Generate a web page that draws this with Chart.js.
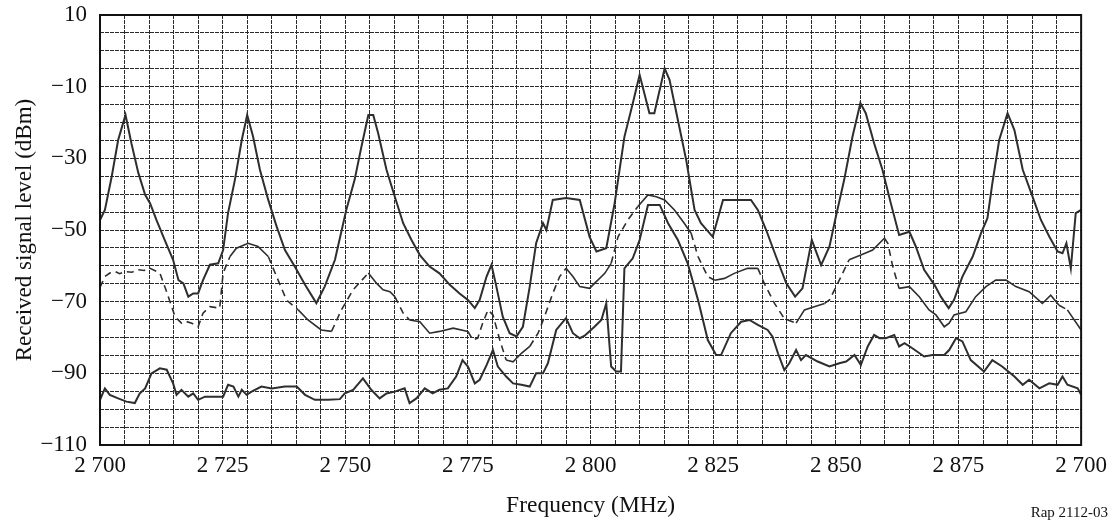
<!DOCTYPE html>
<html>
<head>
<meta charset="utf-8">
<script src="https://cdn.jsdelivr.net/npm/chart.js@4/dist/chart.umd.min.js"></script>
<style>
  html, body { margin: 0; padding: 0; background: #fff; }
  #wrap { width: 1114px; height: 520px; }
</style>
</head>
<body>
<div id="wrap"><canvas id="levelChart" width="1114" height="520"></canvas></div>
<script>
// Upper trace (peaks)
var upperFreq = [2700, 2701, 2702.4, 2703.7, 2705.2, 2706.4, 2707.8, 2709.2, 2710.2, 2711.5, 2713.2, 2714.9, 2716, 2717, 2718, 2719, 2720, 2721, 2722.4, 2724.1,
  2725.1, 2726.1, 2727.5, 2728.9, 2730, 2731.2, 2732.6, 2734.3, 2736, 2737.7, 2739.7, 2741.8, 2744.1, 2745.8, 2747.9, 2750.2, 2751.9, 2753.3, 2754.7, 2755.7,
  2756.7, 2758.4, 2760.1, 2761.8, 2763.5, 2765.2, 2767.2, 2769.2, 2771.3, 2773.3, 2775, 2776.4, 2777.4, 2778.8, 2779.8, 2780.8, 2782.1, 2783.5, 2784.9, 2786.2,
  2787.6, 2788.9, 2790.3, 2791, 2792.3, 2795, 2797.8, 2799.8, 2801.2, 2803.2, 2804.9, 2806.9, 2808.6, 2810, 2812, 2813, 2815.1, 2816.1, 2817.8, 2819.5,
  2821.2, 2822.5, 2824.9, 2827, 2832.7, 2834.1, 2835.8, 2837.8, 2839.9, 2841.7, 2843.2, 2845.1, 2847, 2848.7, 2850, 2851.7, 2853.4, 2855, 2856.1, 2857.8,
  2859.5, 2861.2, 2862.9, 2865, 2866.3, 2868, 2870.1, 2871.4, 2873, 2874.1, 2875.8, 2877.9, 2879.6, 2880.9, 2881.9, 2883.3, 2885, 2886.4, 2888.1, 2890.1,
  2891.8, 2893.5, 2895.2, 2896.2, 2897, 2897.9, 2898.9, 2900];
var upperLevel = [-47.2, -44.4, -35, -24.9, -17.9, -25.8, -34, -40.2, -42.5, -47.2, -52.8, -58.3, -64, -64.9, -68.6, -67.7, -67.7, -64, -59.7, -59.3,
  -55.6, -45.3, -36, -24.9, -17.9, -23.9, -33.2, -41.6, -49, -55.6, -60.2, -65.3, -70.4, -65.8, -58.3, -44.4, -36, -26.7, -17.9, -17.9,
  -23, -33.2, -40.7, -48.1, -52.8, -57, -60.2, -62.1, -65.3, -67.7, -69.5, -71.8, -69.5, -63, -59.7, -65.8, -74.2, -78.8, -79.7, -77,
  -65.8, -53.7, -48.1, -50, -41.6, -41.1, -41.6, -51.9, -56, -55.1, -42.6, -24, -14.7, -6.7, -17.4, -17.4, -4.9, -8.1, -19.3, -30.5,
  -44.4, -48.1, -51.9, -41.6, -41.6, -44.4, -50, -57.4, -64.9, -68.6, -66.3, -52.8, -59.8, -54.6, -46.3, -36, -23.9, -14.6, -17.4, -25.8,
  -33.2, -42.5, -51.4, -50.5, -54.6, -61.1, -65.3, -68.6, -71.8, -69.5, -63, -57.4, -50.9, -46.7, -37, -24.9, -17.4, -22.1, -33.2, -40.7,
  -47.2, -51.8, -56, -56.5, -53.7, -60.7, -45.3, -44.4];

// Middle trace (partly dashed)
var middleFreq = [2700, 2701, 2702, 2703.1, 2704, 2705.1, 2706.5, 2707.8, 2709, 2710.2, 2712.2, 2713.7, 2715.3, 2716.6, 2717.5, 2718.7, 2720, 2721, 2722.4, 2724.4,
  2725.1, 2726.5, 2727.8, 2730.2, 2732.2, 2734.3, 2736, 2738, 2740.4, 2742.4, 2745.1, 2747.2, 2749.2, 2751.6, 2754.7, 2756.4, 2757.7, 2759.1, 2760.1, 2761.8,
  2763.1, 2765.2, 2767.2, 2769.2, 2772, 2775, 2776, 2777, 2778, 2779.1, 2780.1, 2781.5, 2782.8, 2784.2, 2785.9, 2787.6, 2789.3, 2790.6, 2792.3, 2793.7,
  2795, 2796.4, 2797.8, 2799.8, 2800.8, 2802.9, 2804.2, 2805.6, 2807.6, 2809.6, 2811.7, 2813.4, 2815.1, 2817.1, 2819.1, 2820.5, 2821.9, 2823.9, 2825.3, 2827.3,
  2829.3, 2832, 2834.1, 2835.4, 2837.5, 2839.5, 2841.9, 2843.6, 2845.6, 2847.7, 2848.7, 2850.7, 2852.7, 2855.1, 2857.5, 2859.9, 2860.6, 2861.6, 2862.9, 2865,
  2867, 2869, 2870.4, 2872.1, 2873.1, 2874.1, 2876.5, 2878.5, 2880.6, 2882.6, 2884.7, 2886.7, 2889.4, 2892.1, 2893.8, 2895.5, 2897.2, 2900];
var middleLevel = [-66, -63, -62, -61.6, -62.2, -61.6, -61.8, -61.1, -61.3, -60.7, -62, -67.7, -74.2, -76, -75.5, -76, -77, -73.2, -71.4, -71.8,
  -62, -57.4, -55.1, -53.7, -54.6, -57.4, -63, -69.5, -72.3, -75.1, -77.9, -78.3, -72.3, -66.7, -62, -64.9, -66.7, -67.2, -68.6, -73.2,
  -75.1, -75.6, -78.8, -78.3, -77.4, -78.3, -80.7, -80.2, -76, -72.3, -73.7, -80.7, -86.3, -86.8, -84.4, -82.5, -78.8, -74.2, -67.7, -63,
  -60.7, -63, -65.8, -66.3, -64.9, -62.1, -59.3, -51.9, -47.2, -43.5, -40.2, -40.7, -41.6, -44.4, -48.1, -50.9, -57.4, -63, -64, -63.5,
  -62.1, -60.7, -60.7, -64.9, -70.5, -74.7, -76, -72.3, -71.4, -70.5, -69.5, -64, -58.3, -57, -55.6, -52.3, -53.7, -60.2, -66.3, -65.8,
  -68.6, -72.3, -73.7, -77, -76, -73.7, -72.8, -68.6, -65.8, -64, -64, -65.8, -67.2, -70.5, -68.2, -71, -72.3, -77.9];

// Lower trace (noise floor)
var lowerFreq = [2700, 2701, 2702, 2703.7, 2705.4, 2707.1, 2708.1, 2709.2, 2710.5, 2712.2, 2713.6, 2714.9, 2715.6, 2716.6, 2718, 2719, 2720, 2721.4, 2723.4, 2725.1,
  2726.1, 2727.2, 2728.2, 2728.9, 2729.9, 2730.9, 2732.9, 2735, 2737.7, 2740.1, 2741.8, 2743.8, 2746.5, 2748.9, 2749.9, 2751.6, 2753.6, 2755.3, 2757, 2758.4,
  2760.1, 2762.1, 2763.1, 2764.5, 2766.2, 2767.8, 2769.2, 2770.9, 2772.6, 2773.9, 2775, 2776.4, 2777.4, 2778.8, 2780.1, 2781.1, 2782.8, 2784.2, 2785.9, 2787.6,
  2788.9, 2790.3, 2791.3, 2793, 2795, 2796.4, 2797.8, 2798.8, 2800.8, 2802.2, 2803.2, 2804.2, 2805.2, 2806.2, 2806.9, 2808.6, 2810, 2811.7, 2814.1, 2815.8,
  2817.8, 2819.8, 2821.9, 2823.9, 2825.6, 2826.6, 2828.6, 2830.7, 2832.4, 2834.1, 2836.1, 2837.1, 2838.2, 2839.5, 2840.5, 2841.9, 2842.9, 2843.9, 2846.3, 2848.7,
  2850.7, 2852.1, 2853.8, 2855.1, 2856.5, 2857.8, 2858.9, 2860.2, 2861.9, 2862.9, 2864, 2865.6, 2868, 2869.7, 2872.1, 2873.1, 2874.5, 2875.8, 2877.5, 2880.2,
  2881.9, 2883.9, 2886.4, 2888.1, 2889.4, 2891.5, 2893.5, 2895.2, 2896.2, 2897.2, 2899.3, 2900];
var lowerLevel = [-97.4, -94.2, -96, -97, -97.9, -98.3, -95.6, -94.2, -90, -88.6, -89, -92.8, -96, -94.6, -96.5, -95.6, -97.4, -96.5, -96.5, -96.5,
  -93.2, -93.7, -96.5, -94.6, -96, -95.1, -93.7, -94.2, -93.7, -93.7, -96, -97.4, -97.4, -97.2, -95.6, -94.6, -91.4, -94.6, -97, -95.6,
  -95.1, -94.2, -98.3, -97, -94.2, -95.6, -94.6, -94.2, -90.9, -86.3, -88.1, -92.8, -91.8, -87.7, -83.5, -88.1, -90.9, -92.8, -93.2, -93.7,
  -90, -90, -87.2, -77.9, -74.6, -78.8, -80.2, -79.5, -77, -75.1, -70.5, -88.1, -89.5, -89.5, -60.7, -57.9, -52.8, -43, -43, -48.1,
  -52.8, -59.3, -69.5, -80.7, -84.9, -84.9, -78.8, -75.6, -75.1, -76.5, -77.9, -79.8, -84.4, -89.1, -87.2, -83.5, -86.3, -84.9, -86.7, -88.1,
  -87.2, -86.7, -84.9, -87.7, -82.5, -79.3, -80.2, -80.2, -79.3, -82.5, -81.6, -83, -85.3, -84.9, -84.9, -83.5, -80.2, -81.1, -86.3, -89.5,
  -86.3, -88.1, -90.9, -93.2, -91.8, -94.2, -92.8, -93.2, -90.9, -93.2, -94.2, -96];

// Axis labels
var xTickLabels = ['2 700', '2 725', '2 750', '2 775', '2 800', '2 825', '2 850', '2 875', '2 700'];
var yTickLabels = ['10', '\u221210', '\u221230', '\u221250', '\u221270', '\u221290', '\u2212110'];

// frequency spans where the middle trace is drawn dashed
var dashedSpans = [[2700, 2726], [2735, 2740], [2748, 2754], [2760, 2763], [2775, 2783], [2788, 2795],
  [2804, 2810], [2820, 2825], [2834, 2842], [2848, 2853], [2860, 2863], [2895, 2898]];

function toPoints(xs, ys) {
  return xs.map(function (x, i) { return { x: x, y: ys[i] }; });
}

function isDashed(f) {
  return dashedSpans.some(function (s) { return f >= s[0] && f <= s[1]; });
}

var serif = "'Liberation Serif', 'Times New Roman', serif";
var ink = '#2e2e2e';
var gridInk = '#2a2a2a';

// plot frame and figure reference
var framePlugin = {
  id: 'frame',
  afterDraw: function (chart) {
    var ctx = chart.ctx, a = chart.chartArea;
    ctx.save();
    ctx.strokeStyle = '#111';
    ctx.lineWidth = 2;
    ctx.strokeRect(a.left, a.top, a.right - a.left, a.bottom - a.top);
    ctx.font = '15px ' + serif;
    ctx.fillStyle = '#111';
    ctx.textAlign = 'right';
    ctx.textBaseline = 'alphabetic';
    ctx.fillText('Rap 2112-03', chart.width - 6, chart.height - 3);
    ctx.restore();
  }
};

var lineStyle = { borderColor: ink, borderWidth: 2, pointRadius: 0, fill: false, tension: 0 };

new Chart(document.getElementById('levelChart').getContext('2d'), {
  type: 'line',
  data: {
    datasets: [
      Object.assign({ label: 'upper', data: toPoints(upperFreq, upperLevel) }, lineStyle),
      Object.assign({
        label: 'middle',
        data: toPoints(middleFreq, middleLevel),
        segment: {
          borderDash: function (ctx) {
            var mid = (ctx.p0.parsed.x + ctx.p1.parsed.x) / 2;
            return isDashed(mid) ? [7, 5] : undefined;
          }
        }
      }, lineStyle, { borderWidth: 1.6 }),
      Object.assign({ label: 'lower', data: toPoints(lowerFreq, lowerLevel) }, lineStyle)
    ]
  },
  options: {
    responsive: false,
    animation: false,
    layout: { padding: { left: 0, right: 32, top: 15, bottom: 0 } },
    plugins: { legend: { display: false }, tooltip: { enabled: false } },
    scales: {
      x: {
        type: 'linear',
        min: 2700,
        max: 2900,
        afterFit: function (scale) { scale.height = 75; },
        grid: { color: gridInk, lineWidth: 1, drawTicks: false },
        border: { display: false, dash: [4, 1] },
        ticks: {
          stepSize: 5,
          autoSkip: false,
          maxRotation: 0,
          padding: 7,
          color: '#111',
          font: { family: serif, size: 23 },
          callback: function (v) {
            var k = (v - 2700) / 25;
            return Number.isInteger(k) ? xTickLabels[k] : '';
          }
        },
        title: {
          display: true,
          text: 'Frequency (MHz)',
          color: '#111',
          font: { family: serif, size: 23.5 },
          padding: { top: 0, bottom: 0 }
        }
      },
      y: {
        min: -110,
        max: 10,
        afterFit: function (scale) {
          scale.width = 100;
          scale.paddingTop = 0;
          scale.paddingBottom = 0;
        },
        grid: { color: gridInk, lineWidth: 1, drawTicks: false },
        border: { display: false, dash: [4, 1] },
        ticks: {
          stepSize: 5,
          autoSkip: false,
          padding: 13,
          color: '#111',
          font: { family: serif, size: 23 },
          callback: function (v) {
            var k = (10 - v) / 20;
            return Number.isInteger(k) ? yTickLabels[k] : '';
          }
        },
        title: {
          display: true,
          text: 'Received signal level (dBm)',
          color: '#111',
          font: { family: serif, size: 23 },
          padding: { top: 11, bottom: 0 }
        }
      }
    }
  },
  plugins: [framePlugin]
});
</script>
</body>
</html>
